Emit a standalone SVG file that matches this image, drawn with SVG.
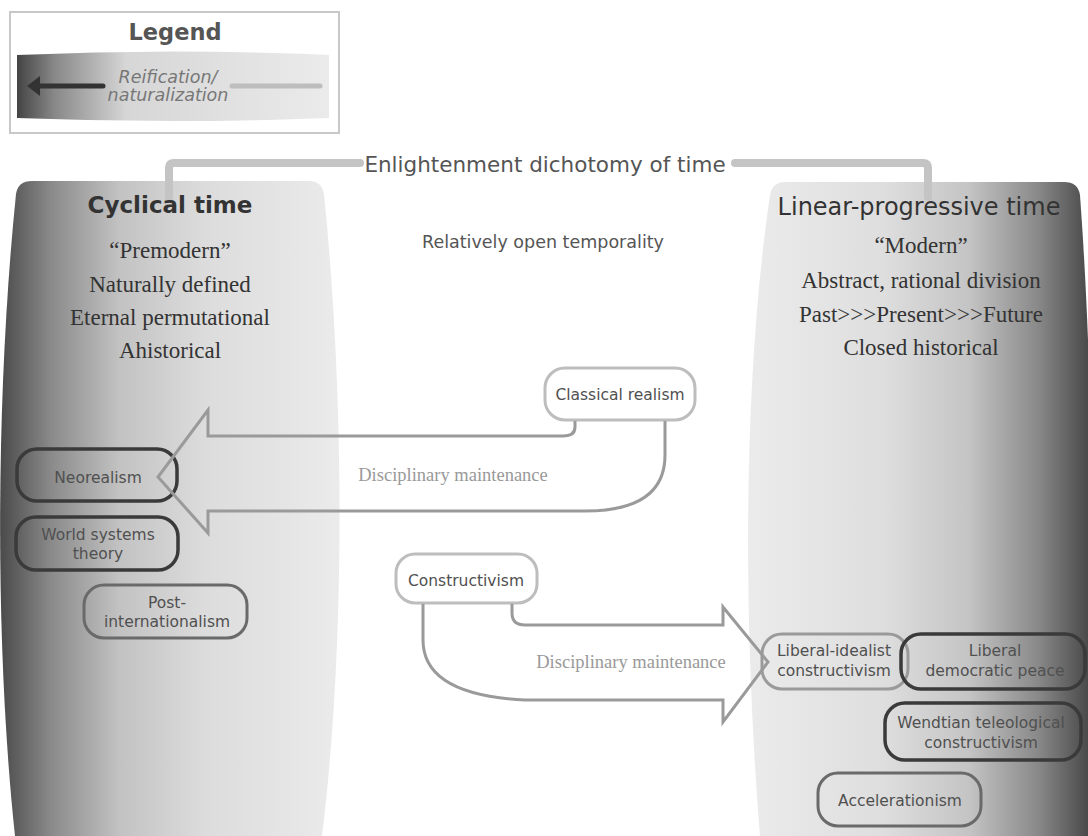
<svg xmlns="http://www.w3.org/2000/svg" width="1088" height="836" viewBox="0 0 1088 836">
<style>
.sans{font-family:"DejaVu Sans","Liberation Sans",sans-serif;}
.serif{font-family:"Liberation Serif","DejaVu Serif",serif;}
.node{fill:none;stroke-width:3;}
.light{stroke:#bdbdbd;fill:#ffffff;}
.dark{stroke:#3a3a3a;stroke-width:3.5;}
.mid{stroke:#6a6a6a;}
.pale{stroke:#9a9a9a;}
.nt{font-size:15.5px;fill:#505050;text-anchor:middle;}
.col{font-size:23px;fill:#333;text-anchor:middle;}
.conn{fill:none;stroke:#9a9a9a;stroke-width:3;stroke-linejoin:miter;}
.dm{font-size:18.5px;fill:#999;text-anchor:middle;}
</style>
<defs>
<linearGradient id="gl" gradientUnits="userSpaceOnUse" x1="0" y1="0" x2="340" y2="0">
<stop offset="0" stop-color="#4a4a4a"/>
<stop offset="0.15" stop-color="#8a8a8a"/>
<stop offset="0.35" stop-color="#c2c2c2"/>
<stop offset="0.6" stop-color="#dcdcdc"/>
<stop offset="1" stop-color="#ebebeb"/>
</linearGradient>
<linearGradient id="gr" gradientUnits="userSpaceOnUse" x1="748" y1="0" x2="1088" y2="0">
<stop offset="0" stop-color="#ebebeb"/>
<stop offset="0.4" stop-color="#dedede"/>
<stop offset="0.65" stop-color="#c4c4c4"/>
<stop offset="0.85" stop-color="#8a8a8a"/>
<stop offset="1" stop-color="#4a4a4a"/>
</linearGradient>
<linearGradient id="gleg" gradientUnits="userSpaceOnUse" x1="17" y1="0" x2="329" y2="0">
<stop offset="0" stop-color="#444"/>
<stop offset="0.12" stop-color="#888"/>
<stop offset="0.35" stop-color="#d6d6d6"/>
<stop offset="1" stop-color="#ebebeb"/>
</linearGradient>
</defs>

<g id="legend">
<rect x="10" y="12" width="329" height="121" fill="#fff" stroke="#c8c8c8" stroke-width="2"/>
<text x="175" y="40" class="sans" font-weight="bold" font-size="22.5" fill="#555" text-anchor="middle">Legend</text>
<path d="M17,55 Q173,48 329,55 L329,118 Q173,124 17,118 Z" fill="url(#gleg)"/>
<line x1="38" y1="86" x2="103" y2="86" stroke="#333" stroke-width="5" stroke-linecap="round"/>
<polygon points="27,86 40,76 40,96" fill="#333"/>
<line x1="232" y1="86" x2="320" y2="86" stroke="#bdbdbd" stroke-width="5" stroke-linecap="round"/>
<text x="168" y="83" class="sans" font-style="italic" font-size="17.5" fill="#777" text-anchor="middle">Reification/</text>
<text x="168" y="101" class="sans" font-style="italic" font-size="17.5" fill="#777" text-anchor="middle">naturalization</text>
</g>

<g id="cyclical">
<path d="M32,181 L308,181 Q322,181 324,194 C345,400 345,650 322,836 L15,836 C-5,650 -5,400 16,194 Q18,181 32,181 Z" fill="url(#gl)"/>
</g>
<g id="linear">
<path d="M786,182 L1064,182 Q1078,182 1080,195 C1095,400 1095,650 1090,836 L760,836 C745,650 740,400 770,195 Q772,182 786,182 Z" fill="url(#gr)"/>
</g>

<g id="bracket">
<path d="M169,197 V168 Q169,163 174,163 H360" fill="none" stroke="#c4c4c4" stroke-width="8" stroke-linecap="round"/>
<path d="M735,163 H923 Q928,163 928,168 V197" fill="none" stroke="#c4c4c4" stroke-width="8" stroke-linecap="round"/>
<text x="545" y="172" class="sans" font-size="21.5" fill="#555" text-anchor="middle">Enlightenment dichotomy of time</text>
</g>

<g id="cyclical-text">
<text x="170" y="213" class="sans" font-weight="bold" font-size="23" fill="#333" text-anchor="middle">Cyclical time</text>
<text x="170" y="258" class="serif col">“Premodern”</text>
<text x="170" y="292" class="serif col">Naturally defined</text>
<text x="170" y="325" class="serif col">Eternal permutational</text>
<text x="170" y="358" class="serif col">Ahistorical</text>
</g>

<g id="linear-text">
<text x="919" y="215" class="sans" font-size="24" fill="#333" text-anchor="middle">Linear-progressive time</text>
<text x="921" y="253" class="serif col">“Modern”</text>
<text x="921" y="288" class="serif col">Abstract, rational division</text>
<text x="921" y="322" class="serif col">Past&gt;&gt;&gt;Present&gt;&gt;&gt;Future</text>
<text x="921" y="355" class="serif col">Closed historical</text>
</g>

<g id="open-temporality">
<text x="543" y="248" class="sans" font-size="17.5" fill="#555" text-anchor="middle">Relatively open temporality</text>
</g>

<g id="classical-realism">
<rect x="545" y="368" width="150" height="52" rx="20" class="node light"/>
<text x="620" y="400" class="sans nt">Classical realism</text>
</g>
<g id="neorealism">
<rect x="17" y="449" width="160" height="52" rx="20" class="node dark"/>
<text x="98" y="483" class="sans nt">Neorealism</text>
</g>
<g id="world-systems">
<rect x="16" y="517" width="162" height="53" rx="20" class="node dark"/>
<text x="98" y="540" class="sans nt">World systems</text>
<text x="98" y="559" class="sans nt">theory</text>
</g>
<g id="post-internationalism">
<rect x="84" y="585" width="163" height="53" rx="20" class="node mid"/>
<text x="167" y="608" class="sans nt">Post-</text>
<text x="167" y="627" class="sans nt">internationalism</text>
</g>
<g id="constructivism">
<rect x="396" y="554" width="141" height="49" rx="19" class="node light"/>
<text x="466" y="586" class="sans nt">Constructivism</text>
</g>
<g id="liberal-idealist">
<rect x="762" y="634" width="146" height="55" rx="20" class="node pale"/>
<text x="834" y="656" class="sans nt">Liberal-idealist</text>
<text x="834" y="676" class="sans nt">constructivism</text>
</g>
<g id="liberal-democratic-peace">
<rect x="901" y="634" width="184" height="55" rx="20" class="node dark"/>
<text x="995" y="656" class="sans nt">Liberal</text>
<text x="995" y="676" class="sans nt">democratic peace</text>
</g>
<g id="wendtian">
<rect x="885" y="703" width="196" height="57" rx="20" class="node dark"/>
<text x="981" y="728" class="sans nt">Wendtian teleological</text>
<text x="981" y="748" class="sans nt">constructivism</text>
</g>
<g id="accelerationism">
<rect x="818" y="773" width="163" height="53" rx="20" class="node mid"/>
<text x="900" y="806" class="sans nt">Accelerationism</text>
</g>

<g id="connectors">
<path class="conn" d="M575,421 V427 Q575,436 563,436 H208 V410 L158,477 L208,533 V511 H585 Q665,511 665,455 V421"/>
<path class="conn" d="M512,604 V613 Q512,625 525,625 H723 V607 L768,662 L723,722 V700 H525 Q423,695 423,640 V604"/>
<text x="453" y="481" class="serif dm">Disciplinary maintenance</text>
<text x="631" y="668" class="serif dm">Disciplinary maintenance</text>
</g>
</svg>
